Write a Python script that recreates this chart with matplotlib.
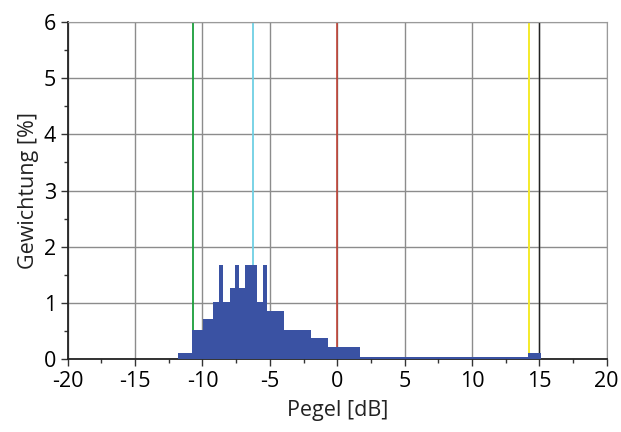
import numpy as np
import matplotlib
matplotlib.use("Agg")
from matplotlib import pyplot as plt
from matplotlib.ticker import MultipleLocator

plt.rcParams['font.family'] = ['Open Sans', 'DejaVu Sans']

# histogram edges [dB] and weights [%]
edges = [-11.80, -10.76, -9.94, -9.24, -8.75, -8.46, -7.96, -7.57, -7.31, -6.82,
         -5.98, -5.49, -5.19, -3.95, -1.95, -0.67, 1.68, 14.17, 15.16]
weights = [0.10, 0.51, 0.72, 1.01, 1.67, 1.01, 1.26, 1.67, 1.26, 1.67,
           1.01, 1.67, 0.86, 0.51, 0.38, 0.21, 0.035, 0.10]

# marker lines
line_pos = [-10.73, -6.23, 0.0, 14.24, 15.0]
line_col = ['#1a9e3a', '#6fd0e4', '#c0392b', '#f4ea2a', '#222222']
line_w = [1.3, 1.3, 1.1, 1.4, 1.0]

fig = plt.figure(figsize=(6.21, 4.32), dpi=100)
ax = fig.add_axes([0.109, 0.169, 0.868, 0.78])

ax.set_xlim(-20, 20)
ax.set_ylim(0, 6)
ax.xaxis.set_major_locator(MultipleLocator(5))
ax.xaxis.set_minor_locator(MultipleLocator(2.5))
ax.yaxis.set_major_locator(MultipleLocator(1))
ax.yaxis.set_minor_locator(MultipleLocator(0.5))
ax.grid(True, which='major', color='#8c8c8c', lw=1.0)
ax.set_axisbelow(True)

for p, c, w in zip(line_pos, line_col, line_w):
    ax.axvline(p, color=c, lw=w, zorder=2)

ax.stairs(weights, edges, fill=True, color='#3a52a3', zorder=3)

ax.tick_params(which='major', direction='out', length=5, width=1, labelsize=15.5, color='#333333')
ax.tick_params(which='minor', direction='out', length=3, width=1, color='#333333')

for s in ['top', 'right']:
    ax.spines[s].set_color('#9a9a9a')
for s in ['left', 'bottom']:
    ax.spines[s].set_color('#222222')
    ax.spines[s].set_linewidth(1.3)

ax.set_xticks([-20, -15, -10, -5, 0, 5, 10, 15, 20])
ax.set_xticklabels(['-20', '-15', '-10', '-5', '0', '5', '10', '15', '20'])
ax.set_xlabel('Pegel [dB]', fontsize=15.5, color='#222222', labelpad=6)
ax.set_ylabel('Gewichtung [%]', fontsize=15.5, color='#222222', labelpad=3)

fig.savefig('out.png', dpi=100)
